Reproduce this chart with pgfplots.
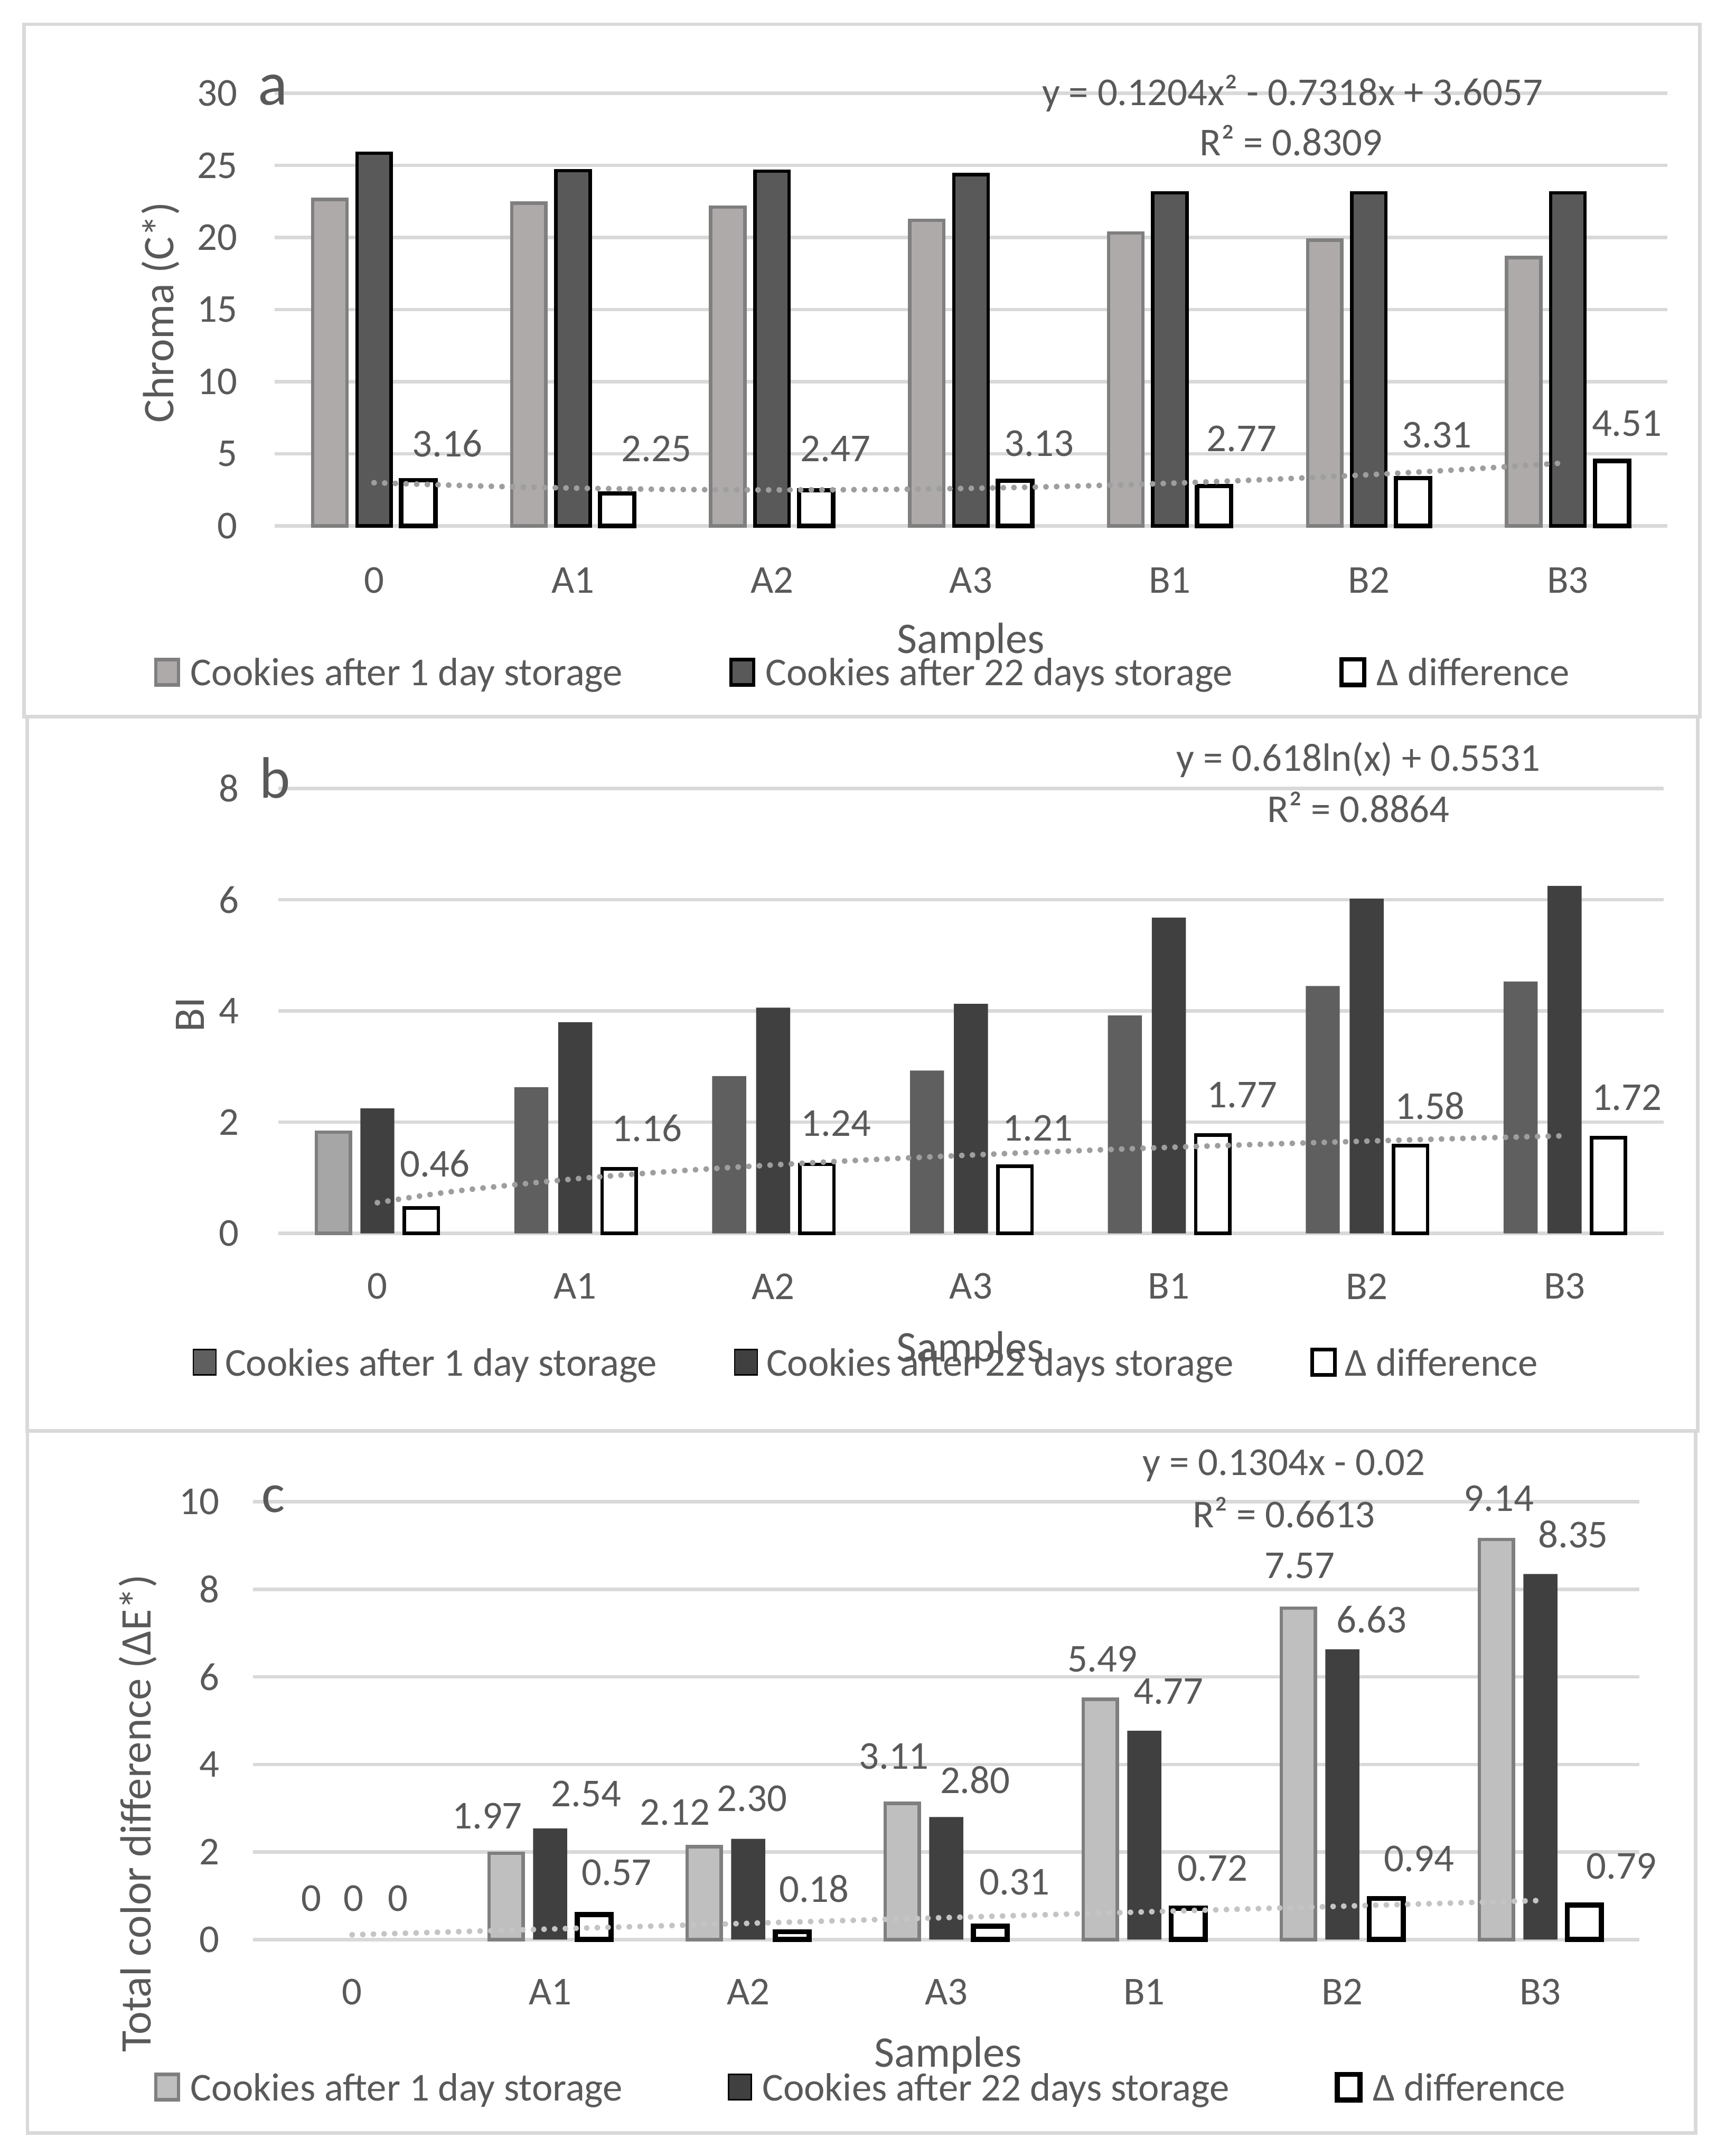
\documentclass[border=0pt]{standalone}
\usepackage{pgfplots}
\pgfplotsset{compat=1.18}
\usepackage{pgfplotstable}
\usepackage{fontspec}
\setmainfont{Carlito}
\definecolor{txt}{HTML}{595959}
\definecolor{gridc}{HTML}{D9D9D9}
\definecolor{aLight}{HTML}{AEAAAA}
\definecolor{edgeGray}{HTML}{7F7F7F}
\definecolor{aDark}{HTML}{595959}
\definecolor{bLight}{HTML}{5F5F5F}
\definecolor{bLightZero}{HTML}{A6A6A6}
\definecolor{bDark}{HTML}{404040}
\definecolor{cLight}{HTML}{BFBFBF}
\definecolor{cDark}{HTML}{404040}
\definecolor{trendAB}{HTML}{9E9E9E}
\definecolor{trendC}{HTML}{C4C4C4}
\newcommand\tickfont{\fontsize{11.48pt}{13.8pt}\selectfont}
\newcommand\titlefont{\fontsize{12.7pt}{15pt}\selectfont}

\pgfplotstableread{
i light dark diff dx dy
0 22.64 25.84 3.16 53.2 26.9
1 22.38 24.63 2.25 60.6 32.4
2 22.11 24.60 2.47 46.1 30.1
3 21.20 24.37 3.13 49.5 27.2
4 20.31 23.10 2.77 52.0 34.4
5 19.82 23.10 3.31 49.4 31.3
6 18.61 23.10 4.51 42.9 27.2
}\tabA

\pgfplotstableread{
i light dark diff dx dy
0 1.82 2.25 0.46 41.8 32.3
1 2.63 3.80 1.16 52.0 29.5
2 2.83 4.06 1.24 45.8 29.8
3 2.93 4.13 1.21 48.5 27.5
4 3.92 5.68 1.77 53.3 28.9
5 4.45 6.02 1.58 46.0 28.7
6 4.53 6.25 1.72 45.3 29.4
}\tabB

\pgfplotstableread{
i light dark diff dxl dyl dxd dyd dxf dyf
0 0 0 0 -29.8 30 1.2 30 33.2 30
1 1.97 2.54 0.57 -45.7 27 26.3 25 48.3 30.7
2 2.12 2.30 0.18 -53.1 25 2.9 29.3 47.9 31
3 3.11 2.80 0.31 -38 34 21 26.8 49.5 32
4 5.49 4.77 0.72 -30.4 29 17.6 28.4 49.6 29
5 7.57 6.63 0.94 -30.8 30.7 21.2 21.7 55.7 28.6
6 9.14 8.35 0.79 -30.2 29.7 23.8 28.9 58.8 28.3
}\tabC

\pgfplotsset{
  excel/.style={
    scale only axis,
    anchor=south west,
    xmin=-0.5, xmax=6.5, ymin=0,
    xtick={0,...,6}, xticklabels={0,A1,A2,A3,B1,B2,B3},
    ymajorgrids, grid style={draw=gridc, line width=1pt},
    axis line style={draw=none},
    major tick length=0pt,
    tick style={draw=none},
    ticklabel style={font=\tickfont, text=txt},
    yticklabel style={anchor=east, inner sep=0pt},
    xticklabel style={anchor=center, inner sep=0pt},
    /pgf/number format/assume math mode=true,
    clip=false,
    legend columns=3,
    legend cell align=left,
    legend style={draw=none, fill=none, inner sep=0pt, outer sep=0pt,
      font=\tickfont, text=txt, nodes={inner sep=0pt}},
  },
  sq/.style={legend image code/.code={\draw[##1] (0pt,-3.0pt) rectangle (6.6pt,4.4pt);}},
  bar/.style={ybar, bar width=0.172, bar shift=0pt},
  lab/.style={draw=none, mark=none, forget plot, point meta=explicit symbolic,
    nodes near coords, nodes near coords align=center,
    every node near coord/.append style={font=\tickfont, text=txt, inner sep=0pt, anchor=center}},
  trend/.style={line width=1.7pt, line cap=round, dash pattern=on 0pt off 3.1pt, mark=none, forget plot},
}

\begin{document}
\begin{tikzpicture}
\path[use as bounding box] (0,0) rectangle (501.6pt,626.4pt);
\draw[gridc, line width=1pt] (7.0pt,418.16pt) rectangle (494.0pt,619.36pt);
\draw[gridc, line width=1pt] (7.92pt,210.68pt) rectangle (493.4pt,418.16pt);
\draw[gridc, line width=1pt] (8.0pt,6.68pt) rectangle (492.76pt,210.68pt);

% ---------------- panel a
\begin{axis}[excel, at={(79.8pt,473.6pt)}, width=404.76pt, height=125.68pt,
  ymax=30, ytick={0,5,...,30},
  yticklabel style={xshift=-10.6pt},
  xticklabel style={yshift=-15.76pt},
  legend style={at={(-0.0865,-0.3425)}, anchor=west,
    /tikz/every odd column/.append style={column sep=3.0pt},
    /tikz/every even column/.append style={column sep=31pt}}]
\addplot[bar, sq, fill=aLight, draw=edgeGray, line width=1pt] table[x expr=\thisrow{i}-0.222, y=light] {\tabA};
\addlegendentry{Cookies after 1 day storage}
\addplot[bar, sq, fill=aDark, draw=black, line width=1pt] table[x=i, y=dark] {\tabA};
\addlegendentry{Cookies after 22 days storage}
\addplot[bar, sq, fill=white, draw=black, line width=1.3pt] table[x expr=\thisrow{i}+0.222, y=diff] {\tabA};
\addlegendentry{Δ difference}
\addplot[trend, draw=trendAB, smooth] coordinates {(0,2.9943) (0.5,2.7789) (1,2.6237) (1.5,2.5287) (2,2.4939) (2.5,2.5193) (3,2.6049) (3.5,2.7507) (4,2.9567) (4.5,3.2229) (5,3.5493) (5.5,3.9359) (6,4.3827)};
\addplot[lab, visualization depends on={\thisrow{dx} \as \dx}, visualization depends on={\thisrow{dy} \as \dy},
  every node near coord/.append style={xshift=\dx*0.4pt, yshift=\dy*0.4pt}] table[x=i, y=diff, meta=diff] {\tabA};
\node[font=\titlefont, text=txt, rotate=90] at (axis description cs:-0.082,0.4933) {Chroma (C*)};
\node[font=\titlefont, text=txt] at (axis description cs:0.500,-0.2673) {Samples};
\node[font=\tickfont, text=txt] at (axis description cs:0.7308,0.9994) {y = 0.1204x² - 0.7318x + 3.6057};
\node[font=\tickfont, text=txt] at (axis description cs:0.7298,0.8912) {R² = 0.8309};
\node[font=\fontsize{18pt}{20pt}\selectfont, text=txt, anchor=base west, inner sep=0pt] at (axis description cs:-0.01235,0.9739) {a};
\end{axis}

% ---------------- panel b
\begin{axis}[excel, at={(80.92pt,268.04pt)}, width=402.52pt, height=129.24pt,
  ymax=8, ytick={0,2,...,8},
  yticklabel style={xshift=-11.3pt},
  xticklabel style={yshift=-15.36pt},
  legend style={at={(-0.0619,-0.2943)}, anchor=west,
    /tikz/every odd column/.append style={column sep=2.4pt},
    /tikz/every even column/.append style={column sep=22.4pt}}]
\addplot[bar, sq, fill=bLight, draw=none, skip coords between index={0}{1}] table[x expr=\thisrow{i}-0.222, y=light] {\tabB};
\addlegendentry{Cookies after 1 day storage}
\addplot[bar, sq, fill=bDark, draw=none] table[x=i, y=dark] {\tabB};
\addlegendentry{Cookies after 22 days storage}
\addplot[bar, sq, fill=white, draw=black, line width=1pt] table[x expr=\thisrow{i}+0.222, y=diff] {\tabB};
\addlegendentry{Δ difference}
\addplot[bar, forget plot, fill=bLightZero, draw=edgeGray, line width=1pt, skip coords between index={1}{7}] table[x expr=\thisrow{i}-0.222, y=light] {\tabB};
\addplot[trend, draw=trendAB, smooth] coordinates {(0,0.5531) (0.25,0.6910) (0.5,0.8037) (1,0.9815) (1.5,1.1194) (2,1.2320) (2.5,1.3273) (3,1.4098) (3.5,1.4826) (4,1.5477) (4.5,1.6066) (5,1.6604) (5.5,1.7099) (6,1.7557)};
\addplot[lab, visualization depends on={\thisrow{dx} \as \dx}, visualization depends on={\thisrow{dy} \as \dy},
  every node near coord/.append style={xshift=\dx*0.4pt, yshift=\dy*0.4pt}] table[x=i, y=diff, meta=diff] {\tabB};
\node[font=\titlefont, text=txt, rotate=90] at (axis description cs:-0.0639,0.4918) {BI};
\node[font=\titlefont, text=txt] at (axis description cs:0.4996,-0.2618) {Samples};
\node[font=\tickfont, text=txt] at (axis description cs:0.7798,1.0644) {y = 0.618ln(x) + 0.5531};
\node[font=\tickfont, text=txt] at (axis description cs:0.7798,0.9576) {R² = 0.8864};
\node[font=\fontsize{17pt}{19pt}\selectfont, text=txt, anchor=base west, inner sep=0pt] at (axis description cs:-0.0142,0.9793) {b};
\end{axis}

% ---------------- panel c
\begin{axis}[excel, at={(73.56pt,62.88pt)}, width=402.88pt, height=127.2pt,
  ymax=10, ytick={0,2,...,10},
  yticklabel style={xshift=-9.6pt},
  xticklabel style={yshift=-15.16pt},
  legend style={at={(-0.0714,-0.3409)}, anchor=west,
    /tikz/every odd column/.append style={column sep=3.0pt},
    /tikz/every even column/.append style={column sep=30.6pt}}]
\addplot[bar, sq, fill=cLight, draw=edgeGray, line width=1pt, skip coords between index={0}{1}] table[x expr=\thisrow{i}-0.222, y=light] {\tabC};
\addlegendentry{Cookies after 1 day storage}
\addplot[bar, sq, fill=cDark, draw=none, skip coords between index={0}{1}] table[x=i, y=dark] {\tabC};
\addlegendentry{Cookies after 22 days storage}
\addplot[bar, sq, fill=white, draw=black, line width=1.5pt, skip coords between index={0}{1}] table[x expr=\thisrow{i}+0.222, y=diff] {\tabC};
\addlegendentry{Δ difference}
\addplot[trend, draw=trendC] coordinates {(0,0.1104) (6,0.8928)};
\addplot[lab, visualization depends on={\thisrow{dxl} \as \dx}, visualization depends on={\thisrow{dyl} \as \dy},
  every node near coord/.append style={xshift=\dx*0.4pt, yshift=\dy*0.4pt}] table[x=i, y=light, meta=light] {\tabC};
\addplot[lab, visualization depends on={\thisrow{dxd} \as \dx}, visualization depends on={\thisrow{dyd} \as \dy},
  every node near coord/.append style={xshift=\dx*0.4pt, yshift=\dy*0.4pt}] table[x=i, y=dark, meta=dark] {\tabC};
\addplot[lab, visualization depends on={\thisrow{dxf} \as \dx}, visualization depends on={\thisrow{dyf} \as \dy},
  every node near coord/.append style={xshift=\dx*0.4pt, yshift=\dy*0.4pt}] table[x=i, y=diff, meta=diff] {\tabC};
\node[font=\titlefont, text=txt, rotate=90] at (axis description cs:-0.0833,0.2887) {Total color difference (ΔE*)};
\node[font=\titlefont, text=txt] at (axis description cs:0.5015,-0.2648) {Samples};
\node[font=\tickfont, text=txt] at (axis description cs:0.7437,1.0821) {y = 0.1304x - 0.02};
\node[font=\tickfont, text=txt] at (axis description cs:0.7437,0.9758) {R² = 0.6613};
\node[font=\fontsize{16pt}{18pt}\selectfont, text=txt, anchor=base west, inner sep=0pt] at (axis description cs:0.0056,0.9758) {c};
\end{axis}
\end{tikzpicture}
\end{document}
